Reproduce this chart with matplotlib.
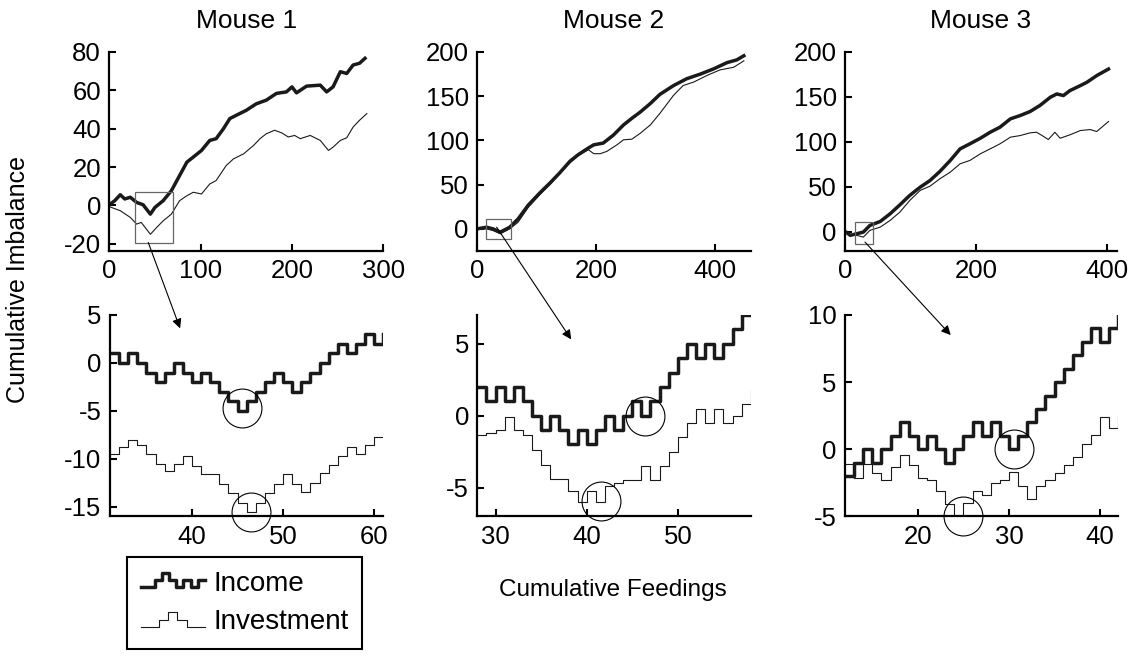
import numpy as np
import matplotlib
matplotlib.use('Agg')
import matplotlib.pyplot as plt
from matplotlib.patches import Rectangle, ConnectionPatch
from matplotlib.lines import Line2D
from matplotlib.legend_handler import HandlerBase

plt.rcParams['font.family'] = ['Liberation Sans', 'DejaVu Sans']
plt.rcParams['font.size'] = 18
plt.rcParams['axes.unicode_minus'] = False

# ---------------- data ----------------
titles = ['Mouse 1', 'Mouse 2', 'Mouse 3']

# whole sessions (sampled every few feedings)
m1_inc_x = [0, 6, 12, 17, 23, 30, 37, 45, 50, 59, 68, 77, 85, 94, 101, 110, 117, 125, 132, 139,
            150, 161, 172, 183, 194, 200, 205, 216, 231, 238, 245, 253, 260, 267, 274, 280]
m1_inc_y = [0.4, 2.5, 5.6, 3.4, 4.3, 1.6, 0.4, -4.5, -1, 2.5, 7.7, 15.6, 22.6, 26, 28.7, 33.9, 34.8, 40, 45.3, 47,
            49.6, 53, 54.9, 58.4, 59.2, 61.8, 58.7, 62.2, 62.7, 59.2, 61.8, 69.7, 68.8, 73.2, 74.1, 76.7]
m1_inv_x = [0, 12, 23, 30, 35, 45, 52, 59, 68, 77, 85, 92, 101, 110, 117, 128, 136, 147, 158, 165,
            172, 181, 189, 196, 203, 209, 220, 231, 240, 245, 253, 260, 267, 274, 282]
m1_inv_y = [-0.6, -2.7, -6.2, -9.7, -8.8, -15, -11.4, -8, -4.5, 2.5, 5.1, 6.9, 6, 11.2, 13, 20.8, 24.3, 26.9, 31.3, 34.8,
            37.4, 39.2, 37.8, 35.7, 36.5, 34.8, 36.5, 33.9, 28.7, 30.4, 33.9, 35.3, 40.9, 44.4, 47.9]

m2_inc_x = [0, 16, 27, 39, 55, 69, 86, 106, 123, 139, 156, 170, 187, 196, 212, 229, 246, 260, 274, 291,
            307, 330, 352, 375, 397, 420, 436, 448]
m2_inc_y = [0, 1.9, 0, -3.7, 1.9, 11.2, 26.8, 41, 52.2, 63.4, 76.4, 83.9, 91.4, 95, 97, 106, 117.5, 125, 132, 141.7,
            152, 162, 169.7, 175, 180.8, 188, 191, 195.7]
m2_inv_x = [0, 16, 27, 39, 55, 69, 86, 106, 123, 139, 156, 170, 187, 196, 207, 218, 235, 246, 260, 274,
            291, 307, 330, 346, 364, 386, 408, 431, 448]
m2_inv_y = [-0.7, 0, -1.9, -5.6, 0, 7.5, 24.2, 39, 50.3, 62.6, 74.6, 82.8, 89.5, 85, 85, 87.6, 95, 100.7, 101.4, 108,
            117.5, 130.5, 151, 162, 166, 173.4, 179.7, 182.7, 190]

m3_inc_x = [0, 8, 18, 28, 38, 54, 69, 84, 99, 115, 130, 145, 161, 176, 191, 207, 222, 237, 253, 268,
            283, 298, 314, 324, 334, 344, 360, 370, 385, 403]
m3_inc_y = [0.4, -4, -2.2, -0.4, 7, 11.5, 20, 30, 40.4, 49.6, 57, 67, 79.3, 92.2, 97.8, 104, 110.7, 116.3, 125.6, 129.3,
            133.7, 140.4, 149.6, 153.3, 151.5, 157, 162.6, 166.3, 173.7, 181]
m3_inv_x = [0, 8, 18, 28, 38, 54, 69, 84, 99, 115, 130, 145, 161, 176, 191, 207, 222, 237, 253, 268,
            283, 293, 303, 311, 321, 329, 344, 360, 375, 385, 403]
m3_inv_y = [-1.1, -4, -4, -6, 1.5, 5.2, 12.6, 21.9, 34.8, 46, 50.7, 58.9, 66.3, 75.6, 79.3, 86.7, 92.2, 97.8, 105.2, 107,
            110, 110.7, 106.3, 102.6, 110.7, 104, 107.8, 112.6, 113.7, 111.5, 122.6]

# zoomed windows, one value per feeding
z1_start = 31
z1_income = [1, 0, 1, 0, -1, -2, -1, 0, -1, -2, -1, -2, -3, -4, -5, -4, -3, -2, -1, -2,
             -3, -2, -1, 0, 1, 2, 1, 2, 3, 2, 3]
z1_invest = [-9.5, -8.8, -8, -8.6, -9.5, -10.5, -11.3, -10.5, -9.7, -10.7, -11.6, -11.6, -12.6, -13.6, -14.6, -15.5,
             -14.6, -13.6, -12.6, -11.6, -12.6, -13.4, -12.5, -11.5, -10.6, -9.7, -8.8, -9.5, -8.6, -7.7, -7.7]
z2_start = 28
z2_income = [2, 1, 2, 1, 2, 1, 0, -1, 0, -1, -2, -1, -2, -1, 0, -1, 0, 1, 0, 1,
             2, 3, 4, 5, 4, 5, 4, 5, 6, 7, 7]
z2_invest = [-1.35, -1.2, -1.0, -0.1, -1.0, -1.35, -2.4, -3.4, -4.4, -4.4, -5.2, -6, -5.2, -6, -4.85, -4.7,
             -4.5, -4.5, -3.5, -4.5, -3.5, -2.5, -1.5, -0.5, 0.5, -0.5, 0.5, -0.5, 0, 0.8, 1.8]
z3_start = 12
z3_income = [-2, -1, 0, -1, 0, 1, 2, 1, 0, 1, 0, -1, 0, 1, 2, 1, 2, 1, 0, 1,
             2, 3, 4, 5, 6, 7, 8, 9, 8, 9, 10]
z3_invest = [-1.1, -2.1, -1.1, -1.8, -2.3, -1.3, -0.4, -1.2, -2.1, -2.3, -3.1, -4.1, -5, -4, -3.1, -3.4,
             -2.5, -2.3, -1.7, -2.7, -3.7, -2.7, -2.3, -1.8, -1.2, -0.6, 0.4, 1.1, 2.4, 1.6, 2.4]

# circled events (feeding, imbalance)
z1_circ_x, z1_circ_y = [45.5, 46.5], [-4.7, -15.5]
z2_circ_x, z2_circ_y = [46.4, 41.6], [0, -5.9]
z3_circ_x, z3_circ_y = [30.6, 24.9], [0, -5]

# boxes on the session plots marking the zoomed window (x0, x1, y0, y1)
box1 = (28, 70, -19.3, 6.9)
box2 = (15, 57, -11.2, 11.2)
box3 = (15.3, 43.4, -13.3, 10.7)

sessions = [(m1_inc_x, m1_inc_y, m1_inv_x, m1_inv_y),
            (m2_inc_x, m2_inc_y, m2_inv_x, m2_inv_y),
            (m3_inc_x, m3_inc_y, m3_inv_x, m3_inv_y)]
zooms = [(z1_start, z1_income, z1_invest, z1_circ_x, z1_circ_y),
         (z2_start, z2_income, z2_invest, z2_circ_x, z2_circ_y),
         (z3_start, z3_income, z3_invest, z3_circ_x, z3_circ_y)]
boxes = [box1, box2, box3]

# ---------------- layout ----------------
top_pos = [[0.0961, 0.6174, 0.2410, 0.3034],
           [0.4195, 0.6174, 0.2410, 0.3034],
           [0.7432, 0.6174, 0.2392, 0.3034]]
bot_pos = [[0.0967, 0.2127, 0.2404, 0.3072],
           [0.4198, 0.2127, 0.2405, 0.3072],
           [0.7432, 0.2127, 0.2404, 0.3072]]
top_xlim = [(0, 300), (0, 460), (0, 416)]
top_ylim = [(-23.7, 80), (-25, 200), (-21.4, 200)]
top_xticks = [[0, 100, 200, 300], [0, 200, 400], [0, 200, 400]]
top_yticks = [[-20, 0, 20, 40, 60, 80], [0, 50, 100, 150, 200], [0, 50, 100, 150, 200]]
bot_xlim = [(31, 61), (28, 58), (12, 42)]
bot_ylim = [(-16, 5), (-7, 7), (-5, 10)]
bot_xticks = [[40, 50, 60], [30, 40, 50], [20, 30, 40]]
bot_yticks = [[-15, -10, -5, 0, 5], [-5, 0, 5], [-5, 0, 5, 10]]
# arrow from box (top data) to zoom panel (bottom data)
arrow_from = [(42.7, -19.3), (33, 1.9), (30.6, -11.5)]
arrow_to = [(38.7, 3.6), (38.3, 5.3), (23.6, 8.5)]

THICK, THIN = 2.5, 0.8
TICK_FS = 18.5


def style(ax):
    for s in ['top', 'right']:
        ax.spines[s].set_visible(False)
    for s in ['left', 'bottom']:
        ax.spines[s].set_linewidth(1.6)
    ax.tick_params(direction='in', length=5, width=1.5, labelsize=TICK_FS, pad=6)


fig = plt.figure(figsize=(11.37, 6.56), dpi=100)

for i in range(3):
    inc_x, inc_y, inv_x, inv_y = sessions[i]
    at = fig.add_axes(top_pos[i])
    at.plot(inc_x, inc_y, color='#1a1a1a', lw=THICK)
    at.plot(inv_x, inv_y, color='#1a1a1a', lw=THIN)
    at.set_xlim(top_xlim[i])
    at.set_ylim(top_ylim[i])
    at.set_xticks(top_xticks[i])
    at.set_yticks(top_yticks[i])
    at.set_title(titles[i], fontsize=19, pad=17)
    style(at)
    bx0, bx1, by0, by1 = boxes[i]
    at.add_patch(Rectangle((bx0, by0), bx1 - bx0, by1 - by0, fill=False,
                           ec='0.4', lw=0.9, zorder=5))

    start, income, invest, cx, cy = zooms[i]
    feed = np.arange(start, start + len(income))
    ab = fig.add_axes(bot_pos[i])
    ab.step(feed, income, where='post', color='#1a1a1a', lw=THICK)
    ab.step(feed, invest, where='post', color='#1a1a1a', lw=THIN)
    ab.plot(cx, cy, 'o', ms=28, mfc='none', mec='k', mew=0.8, clip_on=False)
    ab.set_xlim(bot_xlim[i])
    ab.set_ylim(bot_ylim[i])
    ab.set_xticks(bot_xticks[i])
    ab.set_yticks(bot_yticks[i])
    style(ab)

    con = ConnectionPatch(xyA=arrow_from[i], coordsA=at.transData,
                          xyB=arrow_to[i], coordsB=ab.transData,
                          arrowstyle='-|>', mutation_scale=14, lw=0.8, color='k')
    fig.add_artist(con)


class StepHandler(HandlerBase):
    def __init__(self, pattern, lw):
        super().__init__()
        self.pattern = pattern
        self.lw = lw

    def create_artists(self, legend, orig_handle, xdescent, ydescent,
                       width, height, fontsize, trans):
        n = len(self.pattern)
        xs = np.linspace(0, width, n + 1) - xdescent
        ys = np.array(list(self.pattern) + [self.pattern[-1]]) * height - ydescent
        line = Line2D(xs, ys, drawstyle='steps-post', color='#1a1a1a',
                      lw=self.lw, transform=trans)
        return [line]


h_inc = Line2D([], [], lw=THICK)
h_inv = Line2D([], [], lw=THIN)
leg = fig.legend([h_inc, h_inv], ['Income', 'Investment'],
                 loc='upper left', bbox_to_anchor=(127 / 1137, 1 - 557 / 656),
                 frameon=True, fancybox=False, edgecolor='k', framealpha=1,
                 fontsize=20, handlelength=2.3, handletextpad=0.3,
                 borderpad=0.5, labelspacing=0.45, borderaxespad=0,
                 handler_map={h_inc: StepHandler([0.2, 0.2, 0.55, 0.9, 0.55, 0.2, 0.55, 0.2, 0.55], THICK),
                              h_inv: StepHandler([0.1, 0.1, 0.5, 0.9, 0.5, 0.1, 0.1], THIN)})
leg.get_frame().set_linewidth(1.5)

fig.text(18 / 1137, 1 - 280 / 656, 'Cumulative Imbalance', rotation=90,
         ha='center', va='center', fontsize=18)
fig.text(613 / 1137, 1 - 590 / 656, 'Cumulative Feedings',
         ha='center', va='center', fontsize=17.5)

fig.savefig('out.png', dpi=100)
